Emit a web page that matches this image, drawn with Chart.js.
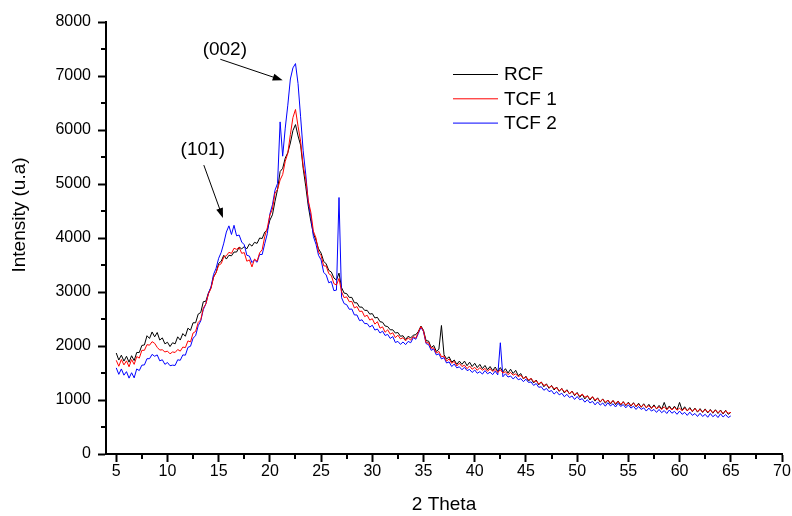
<!DOCTYPE html>
<html>
<head>
<meta charset="utf-8">
<script src="https://cdn.jsdelivr.net/npm/chart.js@4.4.0/dist/chart.umd.min.js"></script>
<style>
  html, body { margin: 0; padding: 0; background: #fff; }
  #wrap { position: relative; width: 792px; height: 516px; }
</style>
</head>
<body>
<div id="wrap"><canvas id="xrd" width="792" height="516"></canvas></div>
<script>
// 2 theta positions (degrees)
const twoTheta = [
  5, 5.25, 5.5, 5.75, 6, 6.25, 6.5, 6.75, 7, 7.25, 7.5, 7.75, 8, 8.25, 8.5, 8.75, 9, 9.25, 9.5, 9.75,
  10, 10.25, 10.5, 10.75, 11, 11.25, 11.5, 11.75, 12, 12.25, 12.5, 12.75, 13, 13.25, 13.5, 13.75, 14, 14.25, 14.5, 14.75,
  15, 15.25, 15.5, 15.75, 16, 16.25, 16.5, 16.75, 17, 17.25, 17.5, 17.75, 18, 18.25, 18.5, 18.75, 19, 19.25, 19.5, 19.75,
  20, 20.25, 20.5, 20.75, 21, 21.25, 21.5, 21.75, 22, 22.25, 22.5, 22.75, 23, 23.25, 23.5, 23.75, 24, 24.25, 24.5, 24.75,
  25, 25.25, 25.5, 25.75, 26, 26.25, 26.5, 26.75, 27, 27.25, 27.5, 27.75, 28, 28.25, 28.5, 28.75, 29, 29.25, 29.5, 29.75,
  30, 30.25, 30.5, 30.75, 31, 31.25, 31.5, 31.75, 32, 32.25, 32.5, 32.75, 33, 33.25, 33.5, 33.75, 34, 34.25, 34.5, 34.75,
  35, 35.25, 35.5, 35.75, 36, 36.25, 36.5, 36.75, 37, 37.25, 37.5, 37.75, 38, 38.25, 38.5, 38.75, 39, 39.25, 39.5, 39.75,
  40, 40.25, 40.5, 40.75, 41, 41.25, 41.5, 41.75, 42, 42.25, 42.5, 42.75, 43, 43.25, 43.5, 43.75, 44, 44.25, 44.5, 44.75,
  45, 45.25, 45.5, 45.75, 46, 46.25, 46.5, 46.75, 47, 47.25, 47.5, 47.75, 48, 48.25, 48.5, 48.75, 49, 49.25, 49.5, 49.75,
  50, 50.25, 50.5, 50.75, 51, 51.25, 51.5, 51.75, 52, 52.25, 52.5, 52.75, 53, 53.25, 53.5, 53.75, 54, 54.25, 54.5, 54.75,
  55, 55.25, 55.5, 55.75, 56, 56.25, 56.5, 56.75, 57, 57.25, 57.5, 57.75, 58, 58.25, 58.5, 58.75, 59, 59.25, 59.5, 59.75,
  60, 60.25, 60.5, 60.75, 61, 61.25, 61.5, 61.75, 62, 62.25, 62.5, 62.75, 63, 63.25, 63.5, 63.75, 64, 64.25, 64.5, 64.75,
  65
];

// intensities (u.a), one value per 2 theta position
const rcf = [
  1870, 1740, 1830, 1720, 1810, 1700, 1820, 1730, 1880, 1880, 2010, 2020, 2190, 2140, 2260, 2170, 2250, 2110, 2150, 2040,
  2070, 1990, 2060, 2040, 2170, 2110, 2230, 2180, 2330, 2290, 2430, 2430, 2590, 2620, 2820, 2830, 2980, 3080, 3280, 3360,
  3530, 3570, 3680, 3610, 3680, 3670, 3740, 3740, 3830, 3800, 3840, 3800, 3890, 3850, 3920, 3900, 4000, 3990, 4110, 4150,
  4330, 4430, 4680, 4900, 5230, 5290, 5480, 5580, 5760, 5990, 6100, 5890, 5720, 5290, 4960, 4590, 4310, 4080, 3960, 3800,
  3720, 3570, 3520, 3400, 3370, 3260, 3220, 3350, 3080, 2980, 2970, 2900, 2900, 2800, 2800, 2720, 2720, 2660, 2660, 2590,
  2600, 2520, 2530, 2450, 2440, 2370, 2360, 2300, 2300, 2240, 2250, 2180, 2190, 2120, 2180, 2150, 2200, 2210, 2270, 2370,
  2290, 2100, 2090, 1970, 2010, 1900, 1940, 2380, 1840, 1760, 1800, 1700, 1740, 1660, 1720, 1660, 1720, 1635, 1700, 1620,
  1680, 1600, 1660, 1580, 1640, 1560, 1620, 1545, 1610, 1530, 1600, 1520, 1580, 1500, 1570, 1490, 1550, 1450, 1490, 1390,
  1440, 1350, 1400, 1315, 1370, 1280, 1335, 1245, 1300, 1215, 1270, 1185, 1240, 1160, 1215, 1130, 1190, 1110, 1165, 1080,
  1140, 1050, 1105, 1020, 1080, 1000, 1060, 980, 1040, 960, 1020, 940, 1000, 925, 990, 915, 980, 905, 970, 895,
  960, 885, 950, 875, 940, 865, 930, 855, 920, 845, 910, 835, 900, 830, 955, 825, 890, 820, 885, 815,
  955, 810, 875, 800, 860, 785, 850, 775, 840, 770, 835, 760, 825, 755, 820, 750, 815, 740, 810, 735,
  770
];

const tcf1 = [
  1735, 1625, 1750, 1650, 1725, 1615, 1750, 1660, 1805, 1775, 1920, 1920, 2025, 2015, 2080, 2050, 1975, 1925, 1930, 1890,
  1905, 1855, 1890, 1880, 1935, 1905, 1980, 1970, 2095, 2075, 2240, 2270, 2435, 2485, 2700, 2780, 2965, 3065, 3270, 3360,
  3495, 3525, 3650, 3670, 3735, 3715, 3810, 3790, 3825, 3715, 3730, 3570, 3595, 3465, 3610, 3570, 3725, 3785, 4030, 4190,
  4425, 4535, 4830, 4900, 5075, 5175, 5420, 5570, 5915, 6230, 6380, 6070, 5795, 5335, 5090, 4690, 4475, 4125, 4000, 3740,
  3675, 3485, 3480, 3340, 3305, 3155, 3130, 3250, 3005, 2895, 2910, 2820, 2825, 2705, 2730, 2640, 2645, 2545, 2570, 2480,
  2505, 2405, 2450, 2330, 2355, 2255, 2300, 2220, 2245, 2155, 2200, 2130, 2155, 2095, 2150, 2110, 2175, 2145, 2260, 2360,
  2275, 2060, 2060, 1960, 1965, 1870, 1900, 1800, 1815, 1720, 1760, 1680, 1715, 1630, 1680, 1620, 1645, 1580, 1630, 1570,
  1605, 1550, 1600, 1550, 1585, 1530, 1580, 1530, 1565, 1510, 1560, 1500, 1525, 1470, 1510, 1460, 1485, 1430, 1460, 1400,
  1425, 1370, 1400, 1340, 1355, 1300, 1330, 1270, 1285, 1230, 1260, 1210, 1225, 1170, 1210, 1150, 1175, 1120, 1160, 1100,
  1125, 1070, 1110, 1050, 1075, 1020, 1060, 1000, 1025, 970, 1015, 960, 995, 940, 990, 935, 975, 920, 965, 910,
  945, 895, 940, 885, 920, 870, 915, 860, 895, 845, 890, 840, 875, 825, 875, 820, 865, 815, 865, 810,
  850, 800, 850, 800, 840, 790, 840, 790, 825, 775, 825, 775, 815, 765, 815, 765, 800, 750, 800, 755,
  770
];

const tcf2 = [
  1595, 1475, 1575, 1460, 1525, 1405, 1505, 1410, 1575, 1545, 1645, 1650, 1765, 1765, 1845, 1810, 1835, 1725, 1745, 1660,
  1695, 1635, 1645, 1640, 1745, 1735, 1835, 1830, 1975, 1995, 2145, 2190, 2375, 2465, 2675, 2780, 2975, 3095, 3325, 3440,
  3625, 3735, 3905, 4110, 4225, 4065, 4235, 4040, 4055, 3925, 3875, 3680, 3665, 3545, 3595, 3550, 3695, 3695, 3895, 4080,
  4445, 4615, 4885, 5010, 6150, 5515, 6035, 6460, 6945, 7150, 7230, 6860, 6245, 5615, 5185, 4660, 4395, 4025, 3885, 3680,
  3595, 3365, 3315, 3170, 3195, 3025, 3035, 4750, 2895, 2785, 2765, 2680, 2685, 2575, 2575, 2470, 2485, 2415, 2415, 2350,
  2385, 2295, 2315, 2240, 2275, 2195, 2215, 2140, 2175, 2065, 2085, 2030, 2075, 2025, 2085, 2060, 2155, 2125, 2235, 2350,
  2265, 2045, 2025, 1920, 1945, 1835, 1855, 1760, 1785, 1685, 1705, 1620, 1665, 1595, 1615, 1560, 1605, 1545, 1565, 1510,
  1555, 1495, 1525, 1480, 1545, 1485, 1515, 1470, 1535, 1465, 2060, 1430, 1485, 1425, 1445, 1390, 1435, 1375, 1395, 1340,
  1385, 1325, 1335, 1270, 1305, 1235, 1245, 1180, 1215, 1155, 1175, 1110, 1155, 1095, 1125, 1060, 1105, 1045, 1075, 1010,
  1065, 1005, 1025, 960, 1005, 945, 975, 910, 965, 905, 945, 885, 950, 890, 930, 870, 940, 880, 915, 855,
  910, 850, 885, 825, 880, 825, 855, 795, 850, 795, 825, 770, 825, 765, 805, 750, 815, 755, 790, 735,
  795, 735, 770, 715, 775, 715, 750, 695, 755, 695, 735, 680, 750, 690, 730, 675, 745, 685, 730, 675,
  705
];

const seriesNames = ['RCF', 'TCF 1', 'TCF 2'];
const seriesColors = ['#000000', '#ff0000', '#0000ff'];

const xTicks = [5, 10, 15, 20, 25, 30, 35, 40, 45, 50, 55, 60, 65, 70];
const xMinorTicks = [7.5, 12.5, 17.5, 22.5, 27.5, 32.5, 37.5, 42.5, 47.5, 52.5, 57.5, 62.5, 67.5];
const yTicks = [0, 1000, 2000, 3000, 4000, 5000, 6000, 7000, 8000];
const yMinorTicks = [500, 1500, 2500, 3500, 4500, 5500, 6500, 7500];

const FONT = "'Liberation Sans', Arial, sans-serif";

function toPoints(ys) {
  return twoTheta.map((t, i) => ({ x: t, y: ys[i] }));
}

// minor tick marks (shorter than the major ones)
const minorTicks = {
  id: 'minorTicks',
  afterDraw(chart) {
    const { ctx, chartArea, scales } = chart;
    ctx.save();
    ctx.strokeStyle = '#000';
    ctx.lineWidth = 2;
    ctx.beginPath();
    xMinorTicks.forEach(v => {
      const px = Math.round(scales.x.getPixelForValue(v));
      ctx.moveTo(px, chartArea.bottom);
      ctx.lineTo(px, chartArea.bottom + 5);
    });
    yMinorTicks.forEach(v => {
      const py = Math.round(scales.y.getPixelForValue(v));
      ctx.moveTo(chartArea.left, py);
      ctx.lineTo(chartArea.left - 5, py);
    });
    ctx.stroke();
    ctx.restore();
  }
};

// y title sits a bit above the middle of the axis in the original
const yTitle = {
  id: 'yTitle',
  afterDraw(chart) {
    const { ctx } = chart;
    ctx.save();
    ctx.translate(20, 215);
    ctx.rotate(-Math.PI / 2);
    ctx.fillStyle = '#000';
    ctx.font = '19px ' + FONT;
    ctx.textAlign = 'center';
    ctx.textBaseline = 'middle';
    ctx.fillText('Intensity (u.a)', 0, 0);
    ctx.restore();
  }
};

// peak labels with arrows, placed in data units
const peakNotes = {
  id: 'peakNotes',
  afterDraw(chart) {
    const { ctx, scales } = chart;
    const notes = [
      { text: '(002)', at: [15.6, 7480], from: [15.16, 7310], to: [21.25, 6920] },
      { text: '(101)', at: [13.45, 5630], from: [13.55, 5350], to: [15.42, 4370] }
    ];
    ctx.save();
    ctx.fillStyle = '#000';
    ctx.strokeStyle = '#000';
    ctx.font = '19px ' + FONT;
    ctx.textAlign = 'center';
    ctx.textBaseline = 'middle';
    notes.forEach(n => {
      const tx = scales.x.getPixelForValue(n.at[0]);
      const ty = scales.y.getPixelForValue(n.at[1]);
      ctx.fillText(n.text, tx, ty);
      const x1 = scales.x.getPixelForValue(n.from[0]);
      const y1 = scales.y.getPixelForValue(n.from[1]);
      const x2 = scales.x.getPixelForValue(n.to[0]);
      const y2 = scales.y.getPixelForValue(n.to[1]);
      const ang = Math.atan2(y2 - y1, x2 - x1);
      const head = 10;
      ctx.lineWidth = 1;
      ctx.beginPath();
      ctx.moveTo(x1, y1);
      ctx.lineTo(x2 - head * 0.8 * Math.cos(ang), y2 - head * 0.8 * Math.sin(ang));
      ctx.stroke();
      ctx.beginPath();
      ctx.moveTo(x2, y2);
      ctx.lineTo(x2 - head * Math.cos(ang) + 3.5 * Math.sin(ang), y2 - head * Math.sin(ang) - 3.5 * Math.cos(ang));
      ctx.lineTo(x2 - head * Math.cos(ang) - 3.5 * Math.sin(ang), y2 - head * Math.sin(ang) + 3.5 * Math.cos(ang));
      ctx.closePath();
      ctx.fill();
    });
    ctx.restore();
  }
};

// legend inside the plot, like the original figure
const insideLegend = {
  id: 'insideLegend',
  afterDraw(chart) {
    const { ctx } = chart;
    ctx.save();
    ctx.font = '19px ' + FONT;
    ctx.textAlign = 'left';
    ctx.textBaseline = 'middle';
    chart.data.datasets.forEach((ds, i) => {
      const y = 74 + i * 24.3;
      ctx.strokeStyle = ds.borderColor;
      ctx.lineWidth = 1;
      ctx.beginPath();
      ctx.moveTo(453, y + 0.5);
      ctx.lineTo(498, y + 0.5);
      ctx.stroke();
      ctx.fillStyle = '#000';
      ctx.fillText(ds.label, 504, y + 1);
    });
    ctx.restore();
  }
};

const ctx = document.getElementById('xrd').getContext('2d');

new Chart(ctx, {
  type: 'line',
  data: {
    datasets: [rcf, tcf1, tcf2].map((ys, i) => ({
      label: seriesNames[i],
      data: toPoints(ys),
      borderColor: seriesColors[i],
      borderWidth: 1,
      pointRadius: 0,
      tension: 0,
      fill: false,
      order: [2, 0, 1][i]
    }))
  },
  options: {
    responsive: false,
    animation: false,
    devicePixelRatio: 1,
    layout: { padding: { top: 22, right: 10, left: 0, bottom: 0 } },
    plugins: {
      legend: { display: false },
      tooltip: { enabled: false }
    },
    scales: {
      x: {
        type: 'linear',
        min: 4,
        max: 70,
        afterBuildTicks: s => { s.ticks = xTicks.map(v => ({ value: v })); },
        afterFit: s => { s.height = 62; },
        grid: { drawOnChartArea: false, drawTicks: true, tickLength: 8, tickWidth: 2, tickColor: '#000' },
        border: { display: true, color: '#000', width: 2 },
        ticks: { color: '#000', font: { family: FONT, size: 16 }, padding: 0, maxRotation: 0, autoSkip: false,
                 callback: v => String(v) },
        title: { display: true, text: '2 Theta', color: '#000', font: { family: FONT, size: 19 }, padding: { top: 0, bottom: 0 } }
      },
      y: {
        min: 0,
        max: 8000,
        afterBuildTicks: s => { s.ticks = yTicks.map(v => ({ value: v })); },
        afterFit: s => { s.width = 106; },
        grid: { drawOnChartArea: false, drawTicks: true, tickLength: 8, tickWidth: 2, tickColor: '#000' },
        border: { display: true, color: '#000', width: 2 },
        ticks: { color: '#000', font: { family: FONT, size: 16 }, padding: 7, autoSkip: false,
                 callback: v => String(v) },
        title: { display: false }
      }
    }
  },
  plugins: [minorTicks, yTitle, peakNotes, insideLegend]
});
</script>
</body>
</html>
